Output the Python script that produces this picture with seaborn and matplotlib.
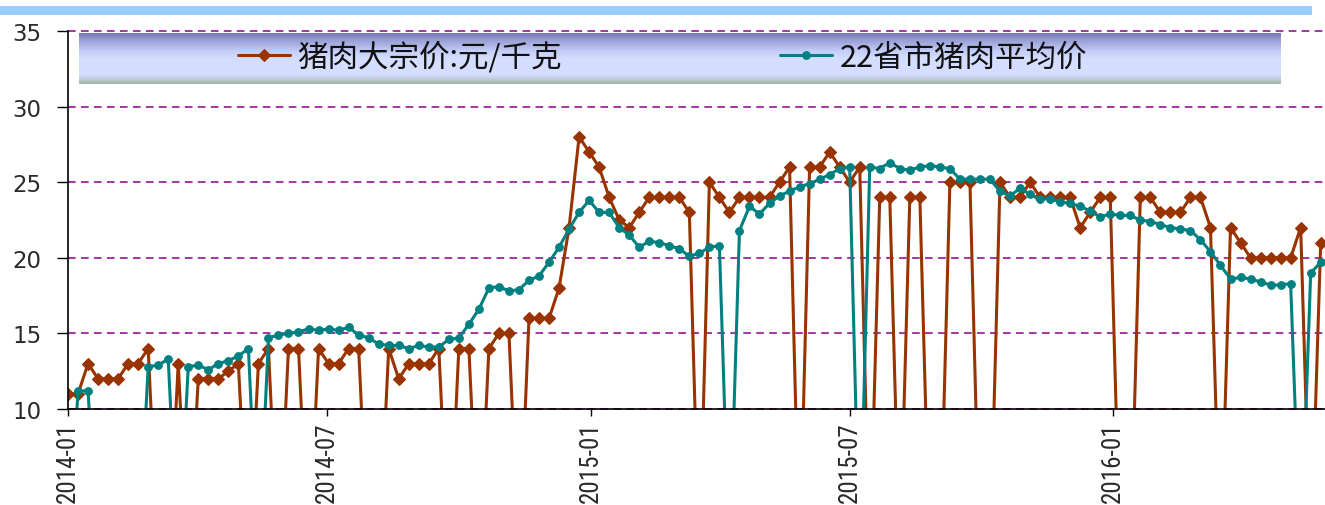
import numpy as np
import pandas as pd
import matplotlib
matplotlib.use("Agg")
import matplotlib.pyplot as plt
from matplotlib.patches import Rectangle
from matplotlib import font_manager
from matplotlib.font_manager import FontProperties
import matplotlib.dates as mdates
import seaborn as sns

# ---------------- data (weekly, 0 = missing value in the source) ----------------
start_date = "2014-01-01"
n_weeks = 126

bulk_price = [  # 猪肉大宗价:元/千克
    11, 11, 13, 12, 12, 12, 13, 13, 14, 0,
    0, 13, 0, 12, 12, 12, 12.5, 13, 0, 13,
    14, 0, 14, 14, 0, 14, 13, 13, 14, 14,
    0, 0, 14, 12, 13, 13, 13, 14, 0, 14,
    14, 0, 14, 15, 15, 0, 16, 16, 16, 18,
    22, 28, 27, 26, 24, 22.5, 22, 23, 24, 24,
    24, 24, 23, 0, 25, 24, 23, 24, 24, 24,
    24, 25, 26, 0, 26, 26, 27, 26, 25, 26,
    0, 24, 24, 0, 24, 24, 0, 0, 25, 25,
    25, 0, 0, 25, 24, 24, 25, 24, 24, 24,
    24, 22, 23, 24, 24, 0, 0, 24, 24, 23,
    23, 23, 24, 24, 22, 0, 22, 21, 20, 20,
    20, 20, 20, 22, 0, 21,
]

avg22_price = [  # 22省市猪肉平均价
    0, 11.2, 11.2, 0, 0, 0, 0, 0, 12.8, 12.9,
    13.3, 0, 12.8, 12.9, 12.6, 13.0, 13.2, 13.5, 14.0, 0,
    14.7, 14.9, 15.0, 15.1, 15.3, 15.2, 15.3, 15.2, 15.4, 14.9,
    14.7, 14.3, 14.2, 14.2, 14.0, 14.2, 14.1, 14.1, 14.6, 14.7,
    15.6, 16.6, 18.0, 18.1, 17.8, 17.9, 18.5, 18.8, 19.7, 20.7,
    21.9, 23.0, 23.8, 23.0, 23.0, 22.0, 21.5, 20.7, 21.1, 21.0,
    20.8, 20.6, 20.1, 20.3, 20.7, 20.8, 0, 21.8, 23.4, 22.9,
    23.6, 24.1, 24.4, 24.7, 24.9, 25.2, 25.5, 25.9, 26.0, 0,
    26.0, 25.9, 26.3, 25.9, 25.8, 26.0, 26.1, 26.0, 25.9, 25.2,
    25.2, 25.2, 25.2, 24.4, 24.1, 24.6, 24.2, 23.9, 23.9, 23.7,
    23.6, 23.4, 23.1, 22.7, 22.9, 22.8, 22.8, 22.5, 22.4, 22.2,
    22.0, 21.9, 21.8, 21.2, 20.4, 19.5, 18.6, 18.7, 18.6, 18.4,
    18.2, 18.2, 18.3, 0, 19.0, 19.7,
]

series_names = ["猪肉大宗价:元/千克", "22省市猪肉平均价"]
y_ticks = [10, 15, 20, 25, 30, 35]
x_tick_dates = ["2014-01-01", "2014-07-01", "2015-01-01", "2015-07-01", "2016-01-01"]

dates = pd.date_range(start_date, periods=n_weeks, freq="7D")
df = pd.DataFrame({"date": dates, "bulk": bulk_price, "avg": avg22_price})

# ---------------- style ----------------
sns.set_style("white")
plt.rcParams["font.family"] = ["DejaVu Sans", "Noto Sans CJK SC"]

# pick a condensed font for the rotated date labels if one is installed
xfont_prop = None
ttf = font_manager.fontManager.ttflist
for want in ["Liberation Sans Narrow", "Roboto Condensed"]:
    cands = [f for f in ttf if f.name == want and f.weight in (400, "normal", "regular")
             and f.style == "normal"]
    if cands:
        xfont_prop = FontProperties(fname=cands[0].fname)
        break
if xfont_prop is None:
    cands = [f for f in ttf if "Condensed" in f.fname and f.style == "normal"
             and f.weight in (400, "normal", "regular")]
    if cands:
        cands.sort(key=lambda f: ("DejaVu" not in f.fname, "Roboto" not in f.fname))
        xfont_prop = FontProperties(fname=cands[0].fname)
if xfont_prop is None:
    xfont_prop = FontProperties(family="DejaVu Sans Mono")

W, H = 1325, 506
fig = plt.figure(figsize=(W / 100, H / 100), dpi=100)
fig.patch.set_facecolor("white")

# top light-blue decoration bar
fig.add_artist(Rectangle((0, 1 - 16 / H), 1312 / W, 9 / H, transform=fig.transFigure,
                         facecolor="#99CCFF", edgecolor="none"))

ax = fig.add_axes([68 / W, (H - 410) / H, (W - 68) / W, 378 / H])
ax.set_facecolor("white")

brown = "#993300"
teal = "#008080"

sns.lineplot(data=df, x="date", y="bulk", ax=ax, color=brown, linewidth=2.2,
             marker="D", markersize=6.5, markeredgecolor=brown, markeredgewidth=0.8,
             label=series_names[0], zorder=3)
sns.lineplot(data=df, x="date", y="avg", ax=ax, color=teal, linewidth=2.2,
             marker="o", markersize=5.5, markeredgecolor=teal, markeredgewidth=0.8,
             label=series_names[1], zorder=4)
handles = ax.get_lines()[:2]
if ax.get_legend() is not None:
    ax.get_legend().remove()

ax.set_ylim(10, 35)
ax.set_yticks(y_ticks)
x0 = pd.Timestamp(start_date)
ax.set_xlim(x0, x0 + pd.Timedelta(days=878))
ax.set_xticks(pd.to_datetime(x_tick_dates))
ax.xaxis.set_major_formatter(mdates.DateFormatter("%Y-%m"))
ax.set_xlabel("")
ax.set_ylabel("")

ax.grid(False)
ax.yaxis.grid(True, color="#8B008B", linestyle=(0, (5, 3.5)), linewidth=1.1)
for gl in ax.get_ygridlines():
    gl.set_clip_on(False)
ax.set_axisbelow(True)

for s in ["top", "right"]:
    ax.spines[s].set_visible(False)
for s in ["left", "bottom"]:
    ax.spines[s].set_color("black")
    ax.spines[s].set_linewidth(1.2)
    ax.spines[s].set_zorder(5)

ax.tick_params(axis="y", which="major", direction="out", length=8, width=1, color="black",
               pad=11, labelsize=16.5, labelcolor="#2a2a2a", left=True)
ax.tick_params(axis="x", which="major", direction="out", length=5, width=1, color="black",
               pad=4, bottom=True)

# rotated date labels, sized so that each label is ~80 px long
fig.canvas.draw()
renderer = fig.canvas.get_renderer()
test = fig.text(0, 0, "2015-07", fontproperties=xfont_prop, fontsize=10)
w10 = test.get_window_extent(renderer).width
test.remove()
xsize = 10 * 80.0 / w10
for lab in ax.get_xticklabels():
    lab.set_rotation(90)
    lab.set_ha("center")
    lab.set_va("top")
    lab.set_fontproperties(xfont_prop)
    lab.set_fontsize(xsize)
    lab.set_color("#2a2a2a")

# legend background with vertical gradient
lx0, lx1, ly0, ly1 = 79, 1281, 34, 85
lax = fig.add_axes([lx0 / W, 1 - ly1 / H, (lx1 - lx0) / W, (ly1 - ly0) / H])
stops = np.array([0.0, 0.12, 0.35, 0.5, 0.82, 0.92, 1.0])
cols = np.array([
    [120, 120, 185],
    [150, 155, 210],
    [195, 205, 248],
    [212, 222, 255],
    [212, 222, 255],
    [190, 200, 215],
    [160, 180, 160],
]) / 255.0
t = np.linspace(0, 1, 60)
grad = np.stack([np.interp(t, stops, cols[:, k]) for k in range(3)], axis=1)
img = np.repeat(grad[:, None, :], 10, axis=1)
lax.imshow(img, aspect="auto", extent=(0, 1, 0, 1), interpolation="bilinear")
lax.set_axis_off()

leg_font = {"family": ["Noto Sans CJK SC", "DejaVu Sans"], "size": 22}
legend_y = 1 - 58 / H
common = dict(loc="center left", frameon=False, borderpad=0, borderaxespad=0,
              handlelength=1.7, handletextpad=0.25, prop=leg_font, labelcolor="#111111")
leg1 = fig.legend([handles[0]], [series_names[0]], bbox_to_anchor=(238 / W, legend_y), **common)
leg2 = fig.legend([handles[1]], [series_names[1]], bbox_to_anchor=(780 / W, legend_y), **common)

fig.savefig("out.png", dpi=100)
